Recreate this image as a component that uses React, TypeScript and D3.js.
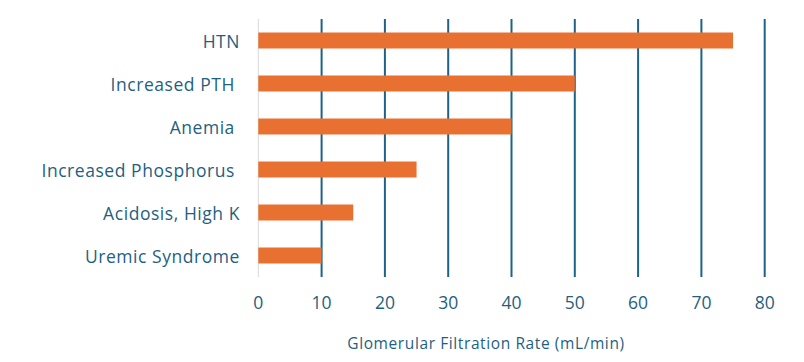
import React from "react";
import * as d3 from "d3";

const categories = ["HTN", "Increased PTH ", "Anemia ", "Increased Phosphorus ", "Acidosis, High K", "Uremic Syndrome"];
const values = [75, 50, 40, 25, 15, 10];
const xTicks = [0, 10, 20, 30, 40, 50, 60, 70, 80];
const xTitle = "Glomerular Filtration Rate (mL/min)";

const W = 804, H = 362;
const TEXT = "#1f5f7f";
const GRID = "#1f6287";
const BAR = "#e87131";
const FONT = "'Open Sans', sans-serif";

export default function App() {
  const x = d3.scaleLinear().domain([0, 80]).range([258.3, 764.7]);
  const y = d3.scaleBand().domain(categories).range([19, 277]).paddingInner(0.628).paddingOuter(0.314);
  return (
    <svg width={W} height={H} style={{ position: "absolute", left: 0, top: 0, background: "#fff" }}>
      {xTicks.map((t) => (
        <line key={"g" + t} x1={x(t)} x2={x(t)} y1={19} y2={277}
          stroke={t === 0 ? "#d9d9d9" : GRID} strokeWidth={t === 0 ? 1 : 2} />
      ))}
      {categories.map((c, i) => (
        <rect key={c} x={x(0)} y={y(c)} width={x(values[i]) - x(0)} height={y.bandwidth()} fill={BAR} />
      ))}
      {categories.map((c) => (
        <text key={"l" + c} x={240} y={(y(c) as number) + y.bandwidth() / 2} textAnchor="end"
          dominantBaseline="central" fontFamily={FONT} fontSize={17.5} letterSpacing={0.55} fill={TEXT} style={{ whiteSpace: "pre" }}>
          {c}
        </text>
      ))}
      {xTicks.map((t) => (
        <text key={"t" + t} x={x(t)} y={302} textAnchor="middle" dominantBaseline="central"
          fontFamily={FONT} fontSize={17.5} fill={TEXT}>{t}</text>
      ))}
      <text x={486} y={343} textAnchor="middle" dominantBaseline="central" fontFamily={FONT} fontSize={15.5} letterSpacing={0.6} fill={TEXT}>
        {xTitle}
      </text>
    </svg>
  );
}
